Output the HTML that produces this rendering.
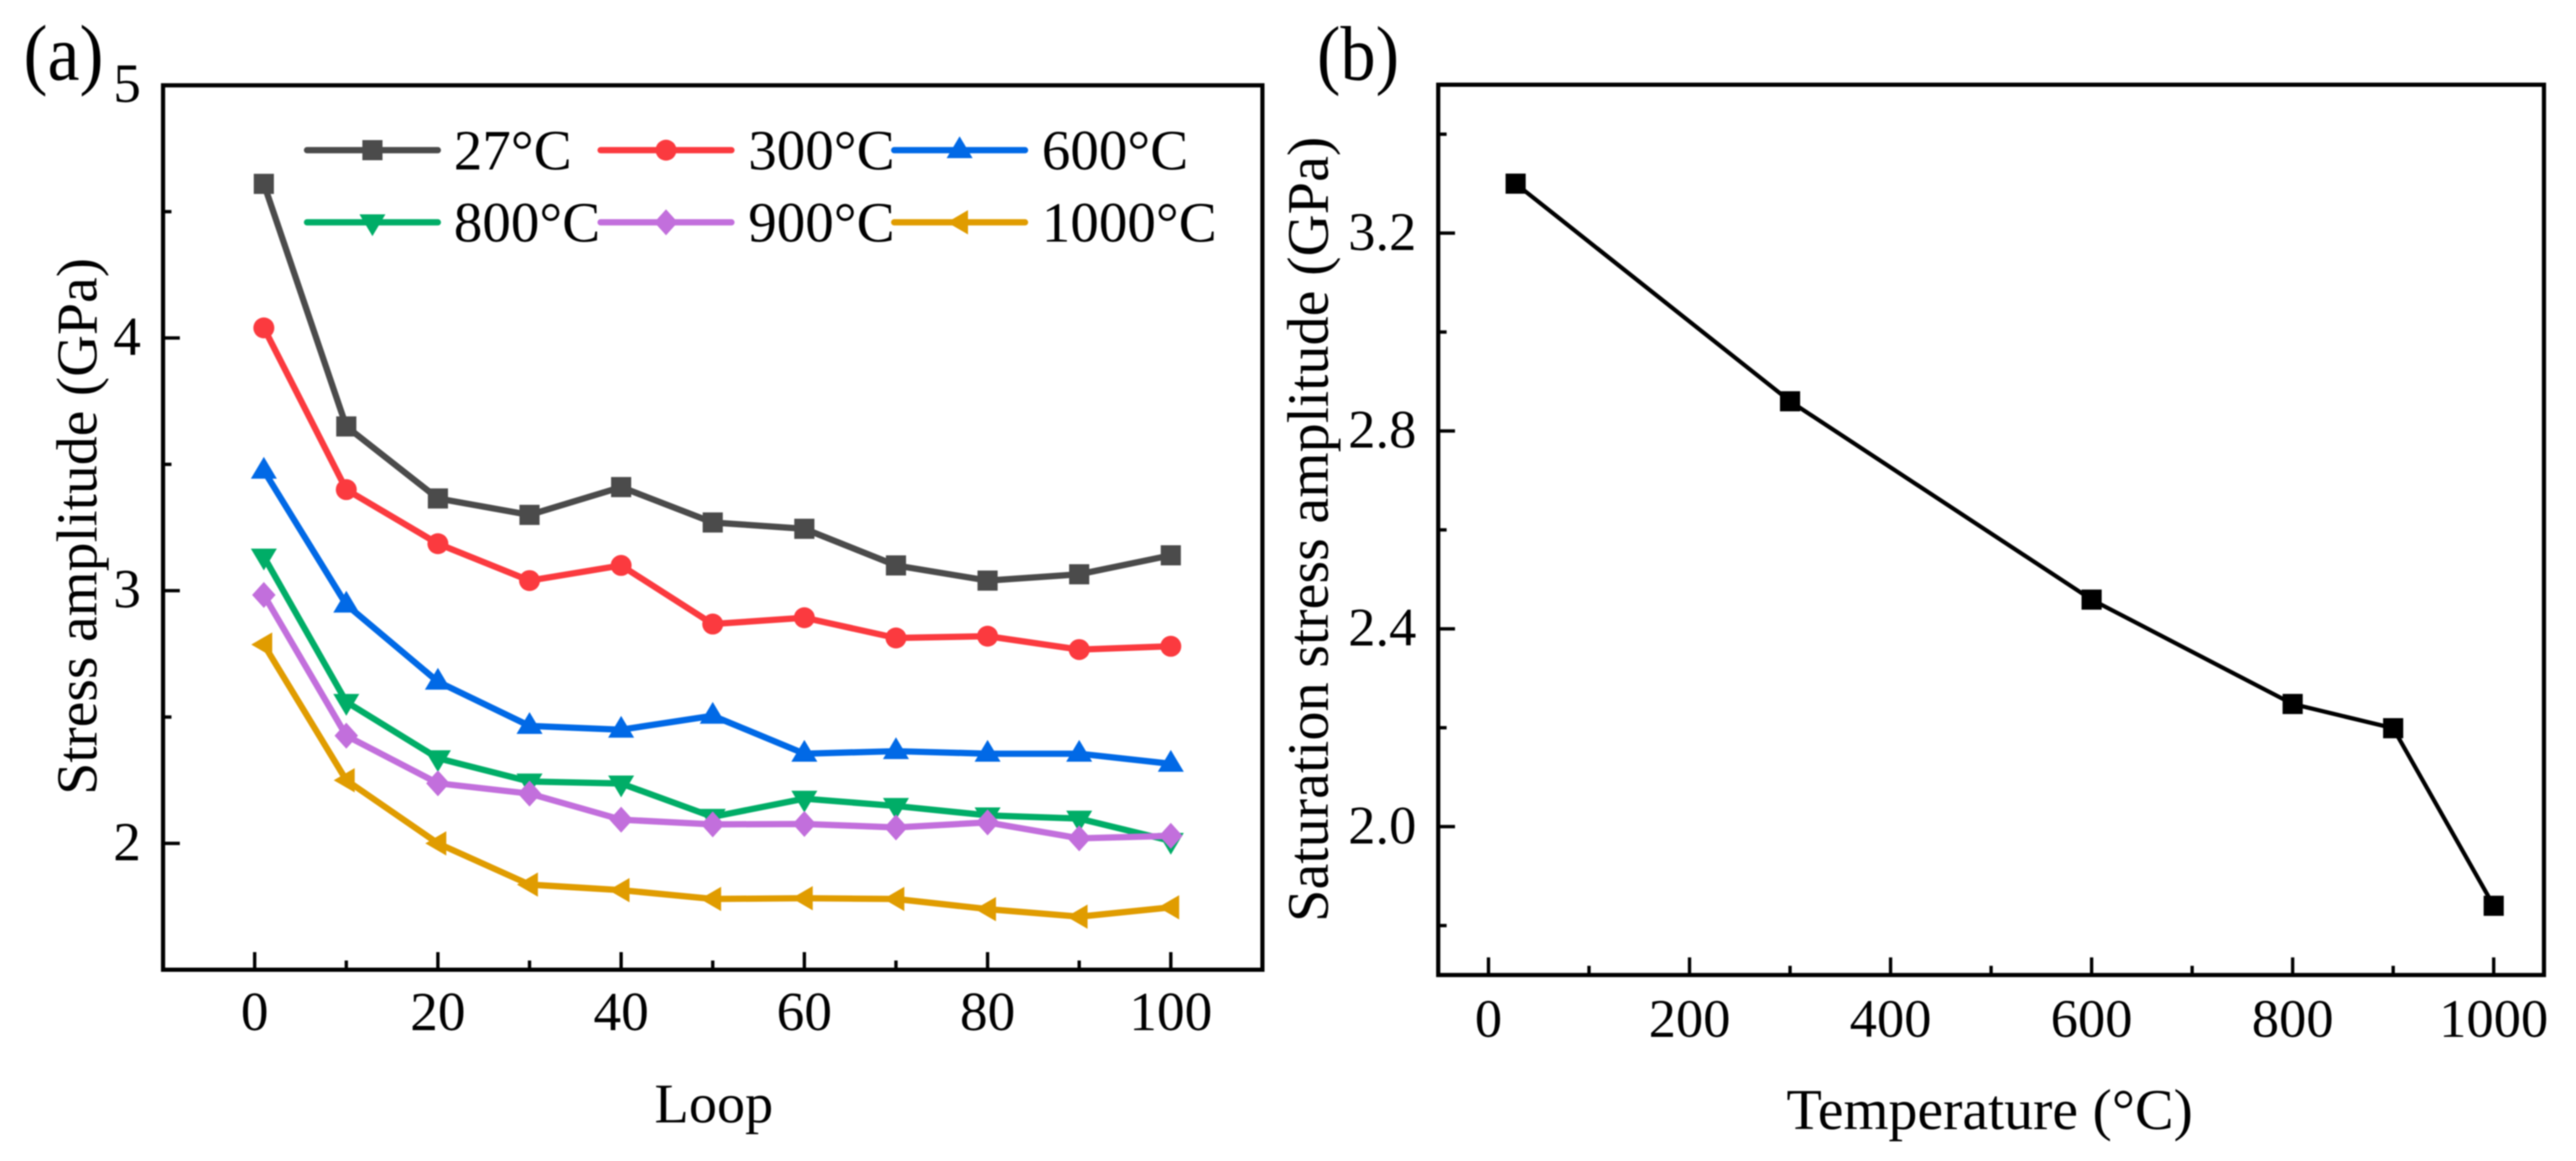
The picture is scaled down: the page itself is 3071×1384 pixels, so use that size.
<!DOCTYPE html>
<html lang="en">
<head>
<meta charset="utf-8">
<title>Stress amplitude charts</title>
<style>
html,body{margin:0;padding:0;background:#fff;}
svg{display:block;filter:blur(0.7px);}
text{font-family:"Liberation Serif","Times New Roman",serif;fill:#000;}
</style>
</head>
<body>
<svg id="figure" xmlns="http://www.w3.org/2000/svg" width="3071" height="1384" viewBox="0 0 3071 1384">
  <rect x="0" y="0" width="3071" height="1384" fill="#fff"/>
  <g id="panel-a">
    <text transform="translate(28,95) scale(1,1.1)" font-size="86">(a)</text>
    <text transform="translate(115,627.5) rotate(-90)" text-anchor="middle" font-size="69">Stress amplitude (GPa)</text>
    <text x="851" y="1338" text-anchor="middle" font-size="67">Loop</text>
  </g>
  <g id="panel-b">
    <text transform="translate(1570,95) scale(1,1.1)" font-size="84">(b)</text>
    <text transform="translate(1583,631) rotate(-90)" text-anchor="middle" font-size="69.5">Saturation stress amplitude (GPa)</text>
    <text x="2372" y="1346" text-anchor="middle" font-size="69">Temperature (°C)</text>
  </g>
</svg>
<script>
// ---- Panel (a) data ----
const loops = [1, 10, 20, 30, 40, 50, 60, 70, 80, 90, 100];
const stress27 = [4.61, 3.65, 3.365, 3.30, 3.41, 3.27, 3.245, 3.10, 3.04, 3.065, 3.14];
const stress300 = [4.04, 3.40, 3.186, 3.04, 3.10, 2.868, 2.893, 2.813, 2.82, 2.767, 2.78];
const stress600 = [3.475, 2.945, 2.64, 2.465, 2.45, 2.505, 2.355, 2.365, 2.355, 2.355, 2.315];
const stress800 = [3.135, 2.56, 2.337, 2.245, 2.237, 2.105, 2.177, 2.148, 2.111, 2.098, 2.01];
const stress900 = [2.983, 2.426, 2.238, 2.197, 2.094, 2.075, 2.077, 2.063, 2.083, 2.02, 2.03];
const stress1000 = [2.787, 2.25, 2.0, 1.837, 1.815, 1.78, 1.783, 1.78, 1.74, 1.71, 1.747];
const seriesNamesA = ['27°C', '300°C', '600°C', '800°C', '900°C', '1000°C'];
const xTicksA = [0, 20, 40, 60, 80, 100];
const xMinorTicksA = [10, 30, 50, 70, 90];
const yTicksA = [2, 3, 4, 5];
const yMinorTicksA = [2.5, 3.5, 4.5];

// ---- Panel (b) data ----
const temperatures = [27, 300, 600, 800, 900, 1000];
const saturationStress = [3.30, 2.86, 2.459, 2.248, 2.199, 1.84];
const xTicksB = [0, 200, 400, 600, 800, 1000];
const xMinorTicksB = [100, 300, 500, 700, 900];
const yTicksB = ['2.0', '2.4', '2.8', '3.2'];
const yMinorTicksB = [1.8, 2.2, 2.6, 3.0, 3.4];

// ---- Axis functions ----
const plotA = {left: 194.4, right: 1505, top: 101.7, bottom: 1156, xMin: -10, xMax: 110, yMin: 1.5, yMax: 5};
const plotB = {left: 1714.6, right: 3032.8, top: 101, bottom: 1162.3, xMin: -50, xMax: 1050, yMin: 1.7, yMax: 3.5};
function xScale(p, v) { return p.left + (v - p.xMin) / (p.xMax - p.xMin) * (p.right - p.left); }
function yScale(p, v) { return p.bottom - (v - p.yMin) / (p.yMax - p.yMin) * (p.bottom - p.top); }

const SVG_NS = 'http://www.w3.org/2000/svg';
function mk(tag, attrs, parent) {
  const el = document.createElementNS(SVG_NS, tag);
  for (const k in attrs) el.setAttribute(k, attrs[k]);
  parent.appendChild(el);
  return el;
}

// marker shapes, centred on (x, y)
function drawMarker(shape, x, y, color, parent) {
  if (shape === 'square') return mk('rect', {x: x - 12, y: y - 12, width: 24, height: 24, fill: color}, parent);
  if (shape === 'circle') return mk('circle', {cx: x, cy: y, r: 12.5, fill: color}, parent);
  let pts;
  if (shape === 'up') pts = [[x, y - 16.5], [x + 15.5, y + 9.5], [x - 15.5, y + 9.5]];
  if (shape === 'down') pts = [[x, y + 16.5], [x + 15.5, y - 9.5], [x - 15.5, y - 9.5]];
  if (shape === 'diamond') pts = [[x, y - 15.5], [x + 14, y], [x, y + 15.5], [x - 14, y]];
  if (shape === 'left') pts = [[x - 15, y], [x + 10, y - 14.5], [x + 10, y + 14.5]];
  return mk('polygon', {points: pts.map(function (q) { return q.join(','); }).join(' '), fill: color}, parent);
}

function drawFrame(p, group, suffix) {
  const frame = mk('rect', {x: p.left, y: p.top, width: p.right - p.left, height: p.bottom - p.top, fill: 'none', stroke: '#000', 'stroke-width': 5}, group);
  
  
}

function drawAxes(p, group, suffix, xMajor, xMinor, yMajor, yMinor, opts) {
  xMajor.forEach(function (v) {
    const x = xScale(p, v);
    const t = mk('line', {x1: x, x2: x, y1: p.bottom, y2: p.bottom - 21, stroke: '#000', 'stroke-width': 4}, group);
    
    
    const l = mk('text', {x: x, y: opts.xLabelY, 'text-anchor': 'middle', 'font-size': opts.fontSize}, group);
    l.textContent = String(v);
    
    
  });
  xMinor.forEach(function (v) {
    const x = xScale(p, v);
    const t = mk('line', {x1: x, x2: x, y1: p.bottom, y2: p.bottom - 11, stroke: '#000', 'stroke-width': 4}, group);
    
    
  });
  yMajor.forEach(function (label) {
    const v = Number(label);
    const y = yScale(p, v);
    const t = mk('line', {x1: p.left, x2: p.left + 20, y1: y, y2: y, stroke: '#000', 'stroke-width': 4}, group);
    
    
    const l = mk('text', {x: opts.yLabelX, y: y + 20, 'text-anchor': 'end', 'font-size': opts.fontSize}, group);
    l.textContent = String(label);
    
    
  });
  yMinor.forEach(function (v) {
    const y = yScale(p, v);
    const t = mk('line', {x1: p.left, x2: p.left + 10, y1: y, y2: y, stroke: '#000', 'stroke-width': 4}, group);
    
    
  });
}

function drawSeries(p, group, name, xs, ys, color, shape, width) {
  const g = mk('g', {}, group);
  
  
  const pts = xs.map(function (x, i) { return xScale(p, x) + ',' + yScale(p, ys[i]); }).join(' ');
  const line = mk('polyline', {points: pts, fill: 'none', stroke: color, 'stroke-width': width, 'stroke-linejoin': 'round'}, g);
  
  
  xs.forEach(function (x, i) {
    const m = drawMarker(shape, xScale(p, x), yScale(p, ys[i]), color, g);
    
    
  });
}

// ---- Panel (a) ----
const groupA = document.getElementById('panel-a');
drawFrame(plotA, groupA, 'a');
drawAxes(plotA, groupA, 'a', xTicksA, xMinorTicksA, yTicksA, yMinorTicksA, {xLabelY: 1228, yLabelX: 168, fontSize: 66});

const stylesA = [
  {color: '#4b4b4b', shape: 'square'},
  {color: '#fb3a3f', shape: 'circle'},
  {color: '#0169e6', shape: 'up'},
  {color: '#00ad67', shape: 'down'},
  {color: '#c26fdc', shape: 'diamond'},
  {color: '#e09c00', shape: 'left'}
];
const valuesA = [stress27, stress300, stress600, stress800, stress900, stress1000];
valuesA.forEach(function (vals, i) {
  drawSeries(plotA, groupA, seriesNamesA[i], loops, vals, stylesA[i].color, stylesA[i].shape, 7.5);
});

// ---- Legend ----
const legend = mk('g', {}, groupA);


const legendColumns = [{x1: 366, x2: 522, tx: 541}, {x1: 716, x2: 872, tx: 892}, {x1: 1066, x2: 1222, tx: 1242}];
const legendRows = [{y: 179, base: 202}, {y: 265, base: 288}];
seriesNamesA.forEach(function (name, i) {
  const col = legendColumns[i % 3];
  const row = legendRows[Math.floor(i / 3)];
  const entry = mk('g', {}, legend);
  
  
  const ln = mk('line', {x1: col.x1, x2: col.x2, y1: row.y, y2: row.y, stroke: stylesA[i].color, 'stroke-width': 7.5, 'stroke-linecap': 'round'}, entry);
  
  
  const mkr = drawMarker(stylesA[i].shape, (col.x1 + col.x2) / 2, row.y, stylesA[i].color, entry);
  
  
  const tx = mk('text', {x: col.tx, y: row.base, 'font-size': 68}, entry);
  tx.textContent = name;
  
  
});

// ---- Panel (b) ----
const groupB = document.getElementById('panel-b');
drawFrame(plotB, groupB, 'b');
drawAxes(plotB, groupB, 'b', xTicksB, xMinorTicksB, yTicksB, yMinorTicksB, {xLabelY: 1236, yLabelX: 1688.5, fontSize: 65});
drawSeries(plotB, groupB, 'saturation-stress', temperatures, saturationStress, '#000', 'square', 5);
</script>
</body>
</html>
